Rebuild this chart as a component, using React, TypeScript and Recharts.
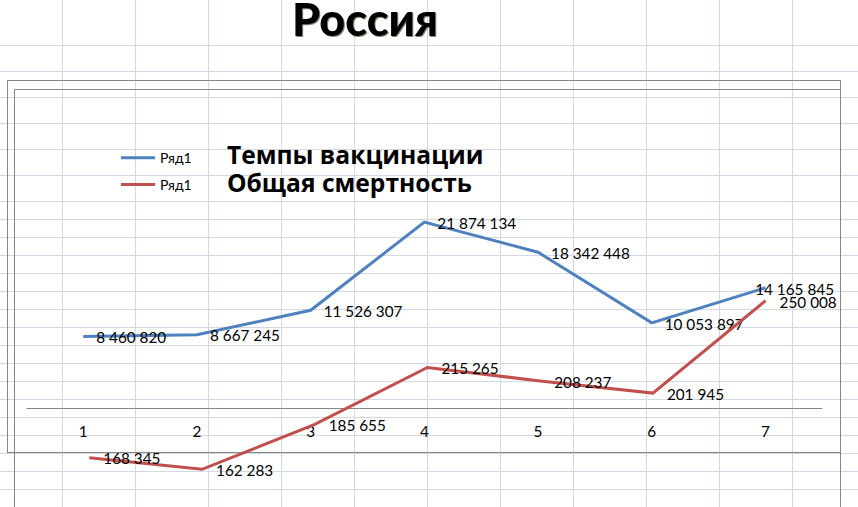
import React from 'react';
import { LineChart, Line, XAxis, YAxis, LabelList, Legend } from 'recharts';

// ---- data ----
const categories = ['1', '2', '3', '4', '5', '6', '7'];
const vaccinationValues = [8460820, 8667245, 11526307, 21874134, 18342448, 10053897, 14165845];
const mortalityValues = [168345, 162283, 185655, 215265, 208237, 201945, 250008];
const seriesNames = ['Ряд1', 'Ряд1'];
const seriesCaptions = ['Темпы вакцинации', 'Общая смертность'];
const chartTitle = 'Россия';
const vaccinationDomain: [number, number] = [0, 25000000];
const mortalityDomain: [number, number] = [150000, 260000];

// ---- layout / style ----
const W = 858;
const H = 507;
const FONT = "Lato, 'Open Sans', 'DejaVu Sans', sans-serif";
const CAPTION_FONT = "'Open Sans', Lato, 'DejaVu Sans', sans-serif";
const BLUE = '#4F81BD';
const RED = '#C0504D';
const GRID = '#D3D8E2';
const FRAME = '#868686';
const seriesColors = [BLUE, RED];

const rowLines = [45, 71, 97, 123, 149, 175, 201, 219, 237, 255, 273, 291, 309, 327, 345, 363, 381, 399, 417, 435, 453, 471, 489, 507];
const colLines = [62, 135, 208, 281, 354, 427, 500, 573, 646, 719, 792, 865];

const data = categories.map((c, i) => ({
  cat: c,
  vac: vaccinationValues[i],
  mort: mortalityValues[i],
}));

const fmt = (v: number) => String(Math.round(v)).replace(/\B(?=(\d{3})+(?!\d))/g, ' ');

const LABEL_FONT = 15.3;
const LABEL_RIGHT = 834;

const makeLabel = (offset: number) => (props: any) => {
  const vb = props.viewBox ?? {};
  const px = Number(props.x ?? vb.x);
  const py = Number(props.y ?? vb.y);
  const text = fmt(Number(props.value));
  const estW = text.length * 7.1;
  let x = px + offset;
  let anchor: 'start' | 'end' = 'start';
  if (x + estW > LABEL_RIGHT) {
    x = LABEL_RIGHT;
    anchor = 'end';
  }
  return (
    <text x={x} y={py + 6.8} textAnchor={anchor} fontFamily={FONT} fontSize={LABEL_FONT} fill="#000">
      {text}
    </text>
  );
};

const LegendContent = () => (
  <svg width={380} height={62} style={{ display: 'block', overflow: 'visible' }}>
    {seriesNames.map((name, i) => (
      <g key={i}>
        <line x1={6} x2={40} y1={17.7 + 26.7 * i} y2={17.7 + 26.7 * i} stroke={seriesColors[i]} strokeWidth={3} />
        <text x={45} y={22.7 + 27.3 * i} fontFamily={FONT} fontSize={14} fill="#000">
          {name}
        </text>
        <text x={112} y={24 + 27.5 * i} fontFamily={CAPTION_FONT} fontSize={24.6} fontWeight={700} fill="#000">
          {seriesCaptions[i]}
        </text>
      </g>
    ))}
  </svg>
);

export default function App() {
  return (
    <div style={{ position: 'relative', width: W, height: H, overflow: 'hidden', background: '#fff' }}>
      <style>{`html,body{margin:0;padding:0;background:#fff;}`}</style>
      {/* spreadsheet background */}
      <svg width={W} height={H} style={{ position: 'absolute', left: 0, top: 0 }}>
        {rowLines.map((y) => (
          <line key={'r' + y} x1={0} x2={W} y1={y + 0.5} y2={y + 0.5} stroke={GRID} strokeWidth={1} />
        ))}
        {colLines.map((x) => (
          <line key={'c' + x} x1={x + 0.5} x2={x + 0.5} y1={0} y2={H} stroke={GRID} strokeWidth={1} />
        ))}
        {/* chart frames */}
        <rect x={7.5} y={80.5} width={833} height={372} fill="none" stroke={FRAME} strokeWidth={1} />
        <path d={`M14.5 ${H + 5} L14.5 89.5 L840.5 89.5 L840.5 ${H + 5}`} fill="none" stroke={FRAME} strokeWidth={1} />
        <defs>
          <filter id="titleShadow" x="-10%" y="-10%" width="120%" height="130%">
            <feDropShadow dx={1} dy={1} stdDeviation={0.6} floodColor="#3a2a10" floodOpacity={0.6} />
          </filter>
        </defs>
        <text x={365} y={36} textAnchor="middle" fontFamily={FONT} fontSize={45} fontWeight={900} fill="#000" filter="url(#titleShadow)">
          {chartTitle}
        </text>
      </svg>

      {/* chart 1: vaccination */}
      <div style={{ position: 'absolute', left: 0, top: 0 }}>
        <LineChart width={W} height={H} data={data} margin={{ top: 195.5, right: 35.8, bottom: 0, left: 26.5 }}>
          <XAxis
            dataKey="cat"
            height={98.5}
            padding={{ left: 56.8, right: 56.8 }}
            axisLine={{ stroke: FRAME, strokeWidth: 1 }}
            tickLine={false}
            tickMargin={12}
            tick={{ fill: '#000', fontSize: LABEL_FONT, fontFamily: FONT }}
            interval={0}
          />
          <YAxis yAxisId="vac" hide domain={vaccinationDomain} />
          <Legend
            layout="vertical"
            align="center"
            verticalAlign="middle"
            content={LegendContent}
            wrapperStyle={{ left: 115, top: 140, width: 380, height: 62 }}
          />
          <Line
            yAxisId="vac"
            type="linear"
            dataKey="vac"
            name={seriesNames[0]}
            stroke={BLUE}
            strokeWidth={3}
            dot={false}
            activeDot={false}
            isAnimationActive={false}
          >
            <LabelList dataKey="vac" content={makeLabel(13)} />
          </Line>
        </LineChart>
      </div>

      {/* chart 2: mortality */}
      <div style={{ position: 'absolute', left: 0, top: 0 }}>
        <LineChart width={W} height={H} data={data} margin={{ top: 281.5, right: 36, bottom: 14.1, left: 32.9 }}>
          <XAxis dataKey="cat" hide padding={{ left: 56.4, right: 56.4 }} />
          <YAxis yAxisId="mort" hide domain={mortalityDomain} />
          <Line
            yAxisId="mort"
            type="linear"
            dataKey="mort"
            name={seriesNames[1]}
            stroke={RED}
            strokeWidth={3}
            dot={false}
            activeDot={false}
            isAnimationActive={false}
          >
            <LabelList dataKey="mort" content={makeLabel(14)} />
          </Line>
        </LineChart>
      </div>
    </div>
  );
}
